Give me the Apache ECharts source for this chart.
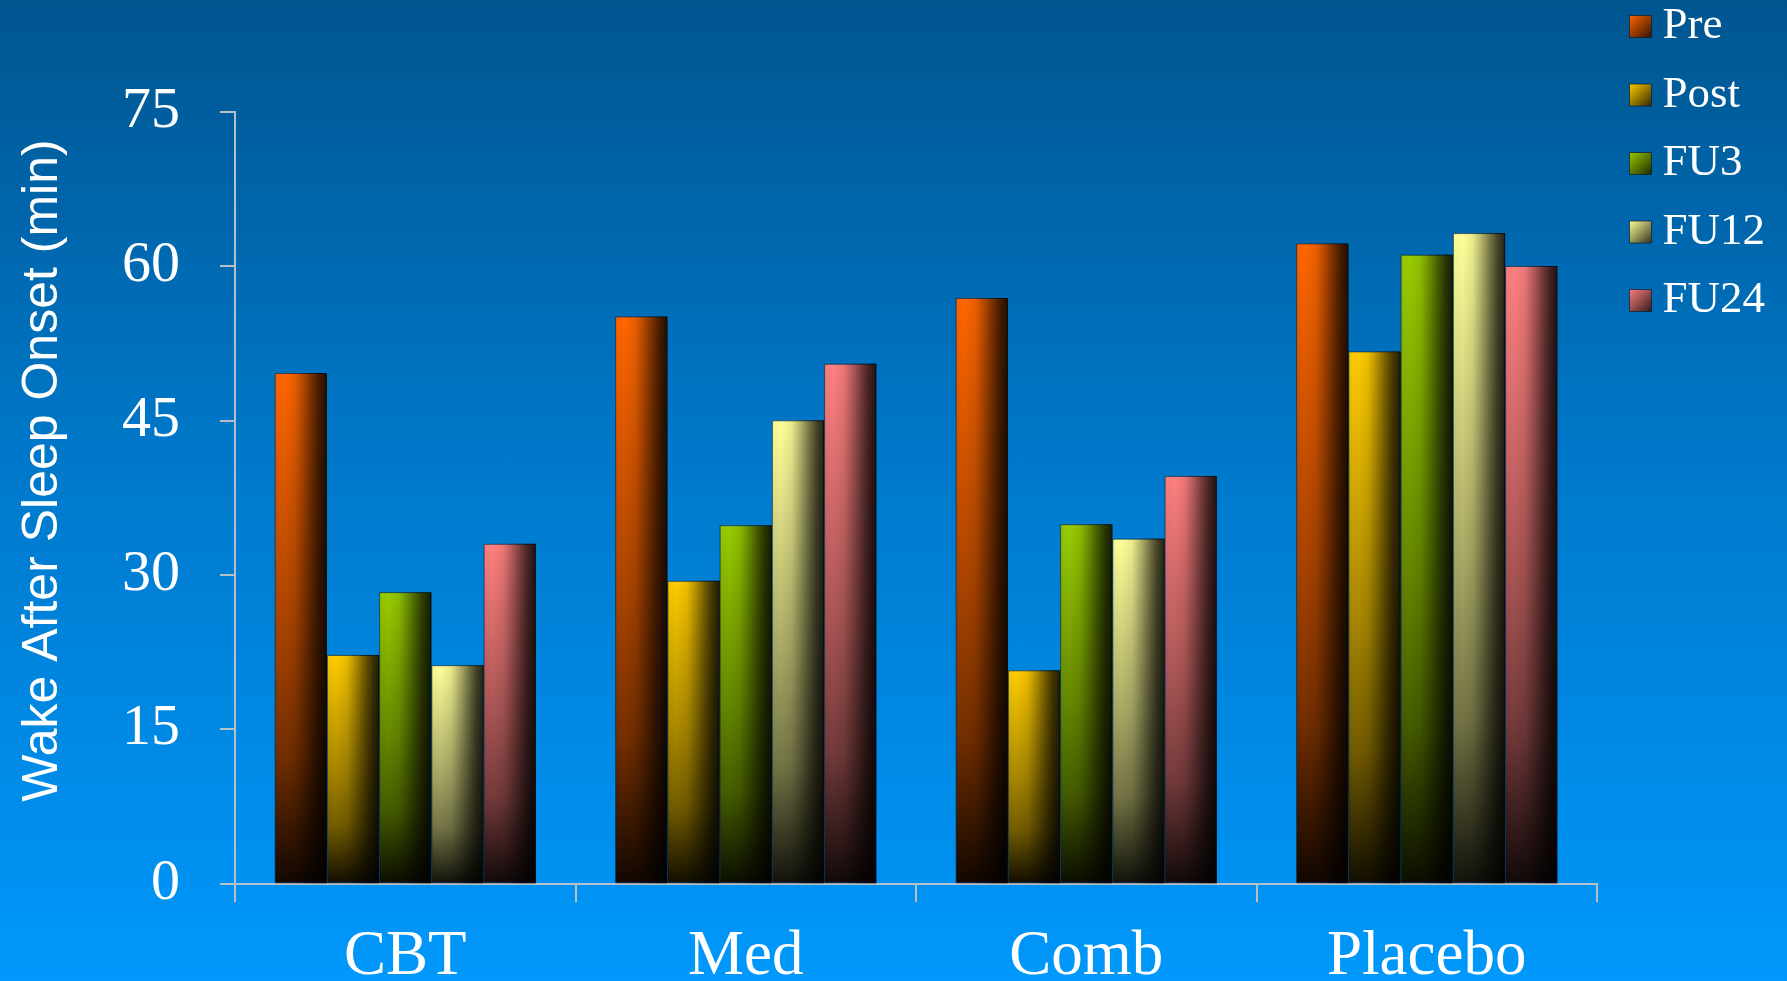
<!DOCTYPE html>
<html>
<head>
<meta charset="utf-8">
<title>Wake After Sleep Onset</title>
<script src="https://cdn.jsdelivr.net/npm/echarts@6/dist/echarts.min.js"></script>
<style>
  html, body { margin: 0; padding: 0; width: 100%; height: 100%; overflow: hidden; }
  #chart {
    width: 1787px; height: 981px;
    background: linear-gradient(to bottom, #00558f 0%, #0077c8 45%, #0098fb 100%);
  }
</style>
</head>
<body>
<div id="chart"></div>
<script>
// Treatment groups along the x axis
const categories = ['CBT', 'Med', 'Comb', 'Placebo'];

// Wake after sleep onset (minutes) per assessment point
const pre   = [49.6, 55.1, 56.9, 62.2];
const post  = [22.2, 29.4, 20.7, 51.7];
const fu3   = [28.3, 34.8, 34.9, 61.1];
const fu12  = [21.2, 45.0, 33.5, 63.2];
const fu24  = [33.0, 50.5, 39.6, 60.0];

// Value axis ticks
const yMin = 0;
const yMax = 75;
const yStep = 15;

const seriesNames  = ['Pre', 'Post', 'FU3', 'FU12', 'FU24'];
const seriesValues = [pre, post, fu3, fu12, fu24];
const seriesColors = ['#ff6600', '#ffcc00', '#99cc00', '#ffff99', '#ff8080'];

function shade(hex, k) {
  const n = parseInt(hex.slice(1), 16);
  const r = Math.round(((n >> 16) & 255) * k);
  const g = Math.round(((n >> 8) & 255) * k);
  const b = Math.round((n & 255) * k);
  return 'rgb(' + r + ',' + g + ',' + b + ')';
}

// Top-to-bottom fade towards black
function verticalFill(hex) {
  return new echarts.graphic.LinearGradient(0, 0, 0, 1, [
    { offset: 0,    color: shade(hex, 1.0) },
    { offset: 0.5,  color: shade(hex, 0.66) },
    { offset: 0.75, color: shade(hex, 0.45) },
    { offset: 1,    color: shade(hex, 0.07) }
  ]);
}

// Left-to-right cylinder shading laid over each bar
const sideShade = new echarts.graphic.LinearGradient(0, 0, 1, 0, [
  { offset: 0,    color: 'rgba(0,0,0,0.03)' },
  { offset: 0.18, color: 'rgba(0,0,0,0)' },
  { offset: 0.38, color: 'rgba(0,0,0,0.08)' },
  { offset: 0.55, color: 'rgba(0,0,0,0.30)' },
  { offset: 0.7,  color: 'rgba(0,0,0,0.52)' },
  { offset: 0.85, color: 'rgba(0,0,0,0.72)' },
  { offset: 1,    color: 'rgba(0,0,0,0.86)' }
]);

function iconFill(hex) {
  return new echarts.graphic.LinearGradient(0, 0, 1, 1, [
    { offset: 0,   color: shade(hex, 1.0) },
    { offset: 0.5, color: shade(hex, 0.6) },
    { offset: 1,   color: shade(hex, 0.18) }
  ]);
}

const gap = '23.3%';
const series = [];
seriesNames.forEach(function (name, i) {
  series.push({
    name: name,
    type: 'bar',
    xAxisIndex: 0,
    data: seriesValues[i],
    barGap: '0%',
    barCategoryGap: gap,
    itemStyle: {
      color: verticalFill(seriesColors[i]),
      borderColor: 'rgba(10,30,50,0.6)',
      borderWidth: 1
    }
  });
});
seriesNames.forEach(function (name, i) {
  series.push({
    name: name,
    type: 'bar',
    xAxisIndex: 1,
    data: seriesValues[i],
    barGap: '0%',
    barCategoryGap: gap,
    silent: true,
    itemStyle: { color: sideShade, borderWidth: 0 }
  });
});

const axisGray = '#b7c0c8';

const chart = echarts.init(document.getElementById('chart'), null, { renderer: 'canvas' });
chart.setOption({
  backgroundColor: 'transparent',
  animation: false,
  grid: {
    left: 235, right: 190, top: 111.7, bottom: 97.7,
    containLabel: false,
    outerBoundsMode: 'none'
  },
  legend: {
    orient: 'vertical',
    left: 1629,
    top: 4,
    padding: 0,
    itemWidth: 22,
    itemHeight: 22,
    itemGap: 23.5,
    icon: 'rect',
    textStyle: {
      color: '#ffffff',
      fontFamily: 'Liberation Serif',
      fontSize: 45,
      lineHeight: 44,
      padding: [0, 0, 0, 6]
    },
    data: seriesNames.map(function (name, i) {
      return {
        name: name,
        itemStyle: {
          color: iconFill(seriesColors[i]),
          borderColor: 'rgba(10,30,50,0.7)',
          borderWidth: 1
        }
      };
    })
  },
  xAxis: [
    {
      type: 'category',
      data: categories,
      axisLine: { show: true, lineStyle: { color: axisGray, width: 2 } },
      axisTick: { show: true, length: 19, lineStyle: { color: axisGray, width: 2 } },
      axisLabel: {
        color: '#ffffff',
        fontFamily: 'Liberation Serif',
        fontSize: 63,
        margin: 43
      }
    },
    {
      type: 'category',
      data: categories,
      show: false
    }
  ],
  yAxis: {
    type: 'value',
    min: yMin,
    max: yMax,
    interval: yStep,
    name: 'Wake After Sleep Onset (min)',
    nameLocation: 'middle',
    nameGap: 167,
    nameTextStyle: {
      color: '#ffffff',
      fontFamily: 'Liberation Sans',
      fontSize: 50,
      padding: [0, 0, 0, 54]
    },
    axisLine: { show: true, lineStyle: { color: axisGray, width: 2 } },
    axisTick: { show: true, length: 15, lineStyle: { color: axisGray, width: 2 } },
    splitLine: { show: false },
    axisLabel: {
      color: '#ffffff',
      fontFamily: 'Liberation Serif',
      fontSize: 58,
      margin: 55
    }
  },
  series: series
});
</script>
</body>
</html>
